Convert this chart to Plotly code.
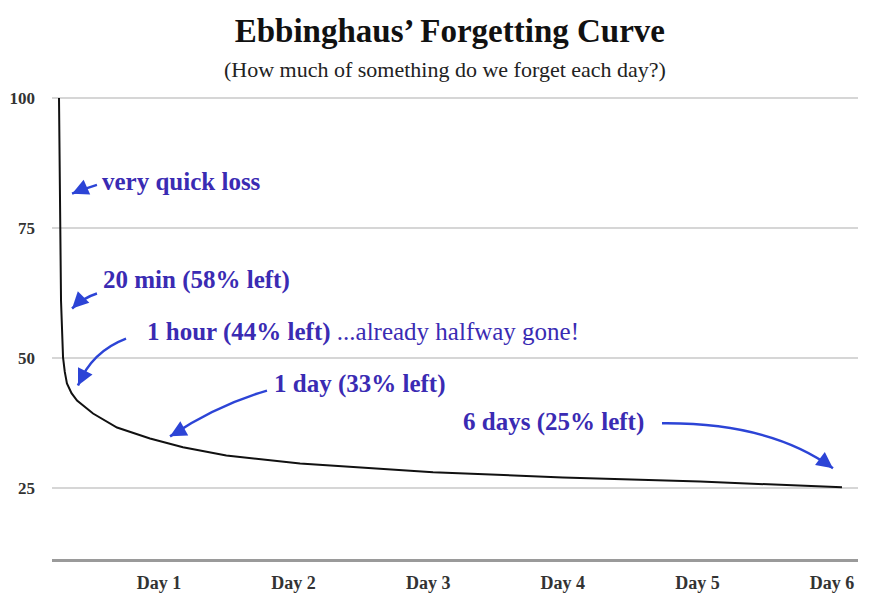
import plotly.graph_objects as go

# curve (x in "Day" units of the axis, y = % remembered)
days = [0.257, 0.262, 0.272, 0.287, 0.30, 0.316, 0.35, 0.391, 0.51, 0.688,
        0.933, 1.178, 1.50, 2.048, 3.036, 4.0, 5.02, 6.074]
retention = [100, 80, 61, 50.1, 47.3, 45.1, 43.2, 41.8, 39.3, 36.6,
             34.5, 32.8, 31.2, 29.7, 28.0, 27.0, 26.2, 25.1]

day_ticks = [1, 2, 3, 4, 5, 6]
day_labels = ["Day 1", "Day 2", "Day 3", "Day 4", "Day 5", "Day 6"]
y_ticks = [25, 50, 75, 100]

SERIF = "Liberation Serif, Times New Roman, serif"
TEXT_BLUE = "#3a2bb3"
ARROW_BLUE = "#2c44d6"

fig = go.Figure()
fig.add_trace(go.Scatter(x=days, y=retention, mode="lines",
                         line=dict(color="#111111", width=2),
                         hoverinfo="skip", showlegend=False))

# (text, x, y) for the notes
notes = [
    ("<b>very quick loss</b>", 0.562, 83.9),
    ("<b>20 min (58% left)</b>", 0.569, 65.0),
    ("<b>1 hour (44% left)</b> ...already halfway gone!", 0.897, 54.9),
    ("<b>1 day (33% left)</b>", 1.84, 44.9),
    ("<b>6 days (25% left)</b>", 3.244, 37.6),
]
for txt, x, y in notes:
    fig.add_annotation(x=x, y=y, text=txt, showarrow=False, xanchor="left",
                       yanchor="middle", font=dict(family=SERIF, size=25, color=TEXT_BLUE))

# arrows: tail, control point, tip (data coords) + head direction in px
arrows = [
    ((0.539, 83.3), (0.45, 82.6), (0.354, 81.6), (9, -4)),
    ((0.539, 62.4), (0.44, 61.6), (0.354, 59.5), (7, -7)),
    ((0.755, 53.7), (0.50, 51.2), (0.398, 44.7), (5, -10)),
    ((1.802, 43.7), (1.43, 40.9), (1.082, 34.9), (9, -5)),
    ((4.737, 37.4), (5.539, 37.6), (6.007, 28.75), (-8, -6)),
]
for (x0, y0), (cx, cy), (x1, y1), (hx, hy) in arrows:
    fig.add_shape(type="path", xref="x", yref="y",
                  path=f"M {x0},{y0} Q {cx},{cy} {x1},{y1}",
                  line=dict(color=ARROW_BLUE, width=2.5))
    fig.add_annotation(x=x1, y=y1, ax=hx, ay=hy, text="", showarrow=True,
                       arrowhead=2, arrowsize=1.3, arrowwidth=2.5,
                       arrowcolor=ARROW_BLUE, standoff=0)

fig.add_annotation(xref="paper", yref="paper", x=0.488, y=1, yshift=28,
                   yanchor="middle", xanchor="center",
                   text="(How much of something do we forget each day?)",
                   showarrow=False, font=dict(family=SERIF, size=22, color="#222222"))

fig.update_layout(
    width=875, height=596,
    margin=dict(l=44, r=25, t=89, b=45),
    paper_bgcolor="white", plot_bgcolor="white",
    title=dict(text="<b>Ebbinghaus\u2019 Forgetting Curve</b>", x=0.505, xref="container",
               y=1 - 22 / 596, yanchor="middle", xanchor="center",
               font=dict(family=SERIF, size=33, color="#111111")),
    xaxis=dict(range=[0.205, 6.193], tickvals=day_ticks, ticktext=day_labels,
               showgrid=False, zeroline=False, showline=True, linecolor="#9a9a9a",
               linewidth=2.5, ticks="", ticklabelstandoff=6, automargin=False,
               tickfont=dict(family=SERIF, size=18, color="#333333", weight="bold")),
    yaxis=dict(range=[11.3, 100.2], tickvals=y_ticks, showgrid=True,
               gridcolor="#d6d6d6", gridwidth=1.5, zeroline=False, showline=False,
               ticks="", ticklabelstandoff=16, automargin=False,
               tickfont=dict(family=SERIF, size=17, color="#333333", weight="bold")),
)

fig.write_html("out.html")
